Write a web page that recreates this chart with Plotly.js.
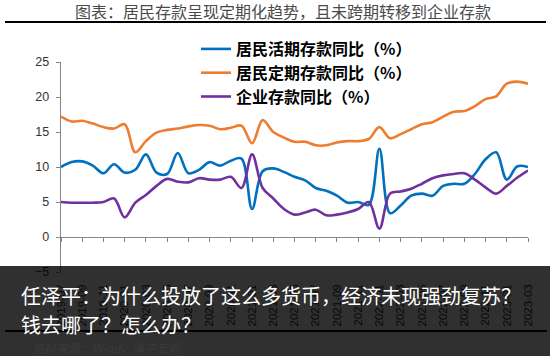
<!DOCTYPE html>
<html>
<head>
<meta charset="utf-8">
<script src="https://cdn.plot.ly/plotly-3.0.1.min.js"></script>
<style>
html,body{margin:0;padding:0;background:#fff;}
#chart{width:550px;height:356px;}
</style>
</head>
<body>
<div id="chart"></div>
<script>
// ---- data (monthly, 2019-07 .. 2023-03) ----
const months = [
  "2019-07","2019-08","2019-09","2019-10","2019-11","2019-12",
  "2020-01","2020-02","2020-03","2020-04","2020-05","2020-06",
  "2020-07","2020-08","2020-09","2020-10","2020-11","2020-12",
  "2021-01","2021-02","2021-03","2021-04","2021-05","2021-06",
  "2021-07","2021-08","2021-09","2021-10","2021-11","2021-12",
  "2022-01","2022-02","2022-03","2022-04","2022-05","2022-06",
  "2022-07","2022-08","2022-09","2022-10","2022-11","2022-12",
  "2023-01","2023-02","2023-03"
];
const demandDeposits = [
  10.0,10.7,10.8,10.2,9.1,10.4,
  9.2,9.6,11.8,9.2,9.0,12.0,
  9.1,9.6,10.7,10.2,10.9,11.2,
  4.0,9.4,9.8,9.3,8.6,8.1,
  7.0,6.6,5.9,4.9,5.0,4.6,
  12.6,3.4,4.5,5.9,6.2,5.9,
  7.3,7.6,7.6,9.0,11.1,12.1,
  8.2,10.1,10.0
];
const timeDeposits = [
  17.2,16.5,16.6,16.2,15.7,15.5,
  16.1,12.1,13.7,14.9,15.3,15.5,
  15.8,16.0,15.9,15.4,15.6,15.9,
  13.4,16.7,15.0,14.2,13.6,13.6,
  13.1,13.1,13.5,13.7,13.7,14.0,
  15.7,14.1,14.7,15.4,16.1,16.4,
  17.2,17.9,18.0,18.7,19.7,20.1,
  21.9,22.2,21.9
];
const corporateDeposits = [
  5.0,4.9,4.9,4.9,5.0,5.5,
  2.8,4.9,6.0,7.3,8.3,7.9,
  7.8,8.4,8.2,8.2,8.6,7.0,
  11.8,7.0,5.5,4.0,3.2,3.5,
  3.9,3.1,3.2,3.5,4.0,5.0,
  1.2,6.2,6.5,6.9,7.6,8.4,
  8.8,9.0,9.1,8.2,7.1,6.2,
  7.3,8.5,9.5
];
const seriesNames = ["居民活期存款同比（%）","居民定期存款同比（%）","企业存款同比（%）"];
const seriesColors = ["#0070C0","#ED7D31","#7030A0"];
const chartTitle = "图表：居民存款呈现定期化趋势，且未跨期转移到企业存款";
const sourceText = "资料来源：Wind，泽平宏观";
const bannerLines = ["任泽平：为什么投放了这么多货币，经济未现强劲复苏？","钱去哪了？怎么办？"];

// ---- layout geometry ----
const W = 550, H = 356;
const M = {l:61, r:22, t:62, b:84};
const PW = W - M.l - M.r, PH = H - M.t - M.b;
const px = x => (x - M.l) / PW;            // pixel x -> paper
const py = y => (H - M.b - y) / PH;        // pixel y -> paper
const yMin = -5, yMax = 25;

const cjk = '"Noto Sans CJK SC", sans-serif';
const lat = '"Liberation Sans", Arial, sans-serif';

const mk = (y, i, xa) => ({
  type: 'scatter', mode: 'lines', x: months, y: y, name: seriesNames[i],
  xaxis: xa, yaxis: 'y',
  line: {color: seriesColors[i], width: 2.6, shape: 'spline', smoothing: 1},
  hoverinfo: 'skip'
});
const traces = [
  mk(demandDeposits, 0, 'x'),
  mk(timeDeposits, 1, 'x'),
  mk(corporateDeposits, 2, 'x2')
];

const axisGray = '#868686';
const layout = {
  width: W, height: H,
  margin: M,
  paper_bgcolor: '#fff', plot_bgcolor: 'rgba(0,0,0,0)',
  showlegend: true,
  legend: {
    x: px(196), y: py(32), xanchor: 'left', yanchor: 'top',
    bgcolor: 'rgba(0,0,0,0)', borderwidth: 0,
    font: {family: cjk, size: 16, color: '#000', weight: 'bold'},
    tracegroupgap: 0, itemwidth: 30
  },
  xaxis: {
    type: 'category', range: [0, months.length - 1],
    tickmode: 'linear', tick0: 0, dtick: 2,
    tickangle: -90, ticks: '', showline: false, showgrid: false, zeroline: false,
    tickfont: {family: lat, size: 11.5, color: '#303030'},
    ticklabelstandoff: 9, fixedrange: true
  },
  xaxis2: {
    type: 'category', overlaying: 'x', anchor: 'free',
    position: (0 - yMin) / (yMax - yMin),
    range: [0, months.length - 1],
    tickmode: 'linear', tick0: 0, dtick: 2,
    showticklabels: false, ticks: 'outside', ticklen: 4, tickcolor: axisGray, tickwidth: 1,
    showline: true, linecolor: axisGray, linewidth: 1.3,
    showgrid: false, zeroline: false, fixedrange: true
  },
  yaxis: {
    range: [yMin, yMax], dtick: 5, tick0: 0,
    ticks: 'outside', ticklen: 4, tickcolor: axisGray, tickwidth: 1,
    showline: true, linecolor: axisGray, linewidth: 1.3,
    showgrid: false, zeroline: false,
    tickfont: {family: lat, size: 12.5, color: '#333'},
    ticklabelstandoff: 4, fixedrange: true
  },
  shapes: [
    {type: 'line', xref: 'paper', yref: 'paper', x0: px(5), x1: px(546), y0: py(22), y1: py(22),
     line: {color: '#000', width: 2}, layer: 'above'},
    {type: 'line', xref: 'paper', yref: 'paper', x0: px(5), x1: px(547), y0: py(331), y1: py(331),
     line: {color: '#000', width: 2}, layer: 'above'},
    {type: 'rect', xref: 'paper', yref: 'paper', x0: px(0), x1: px(W), y0: py(266), y1: py(H),
     fillcolor: 'rgba(0,0,0,0.81)', line: {width: 0}, layer: 'above'}
  ],
  annotations: [
    {xref: 'paper', yref: 'paper', x: px(283), y: py(11), xanchor: 'center', yanchor: 'middle',
     text: chartTitle, showarrow: false, font: {family: cjk, size: 16, color: '#4a4a4a'}},
    {xref: 'paper', yref: 'paper', x: px(30), y: py(347.5), xanchor: 'left', yanchor: 'middle',
     text: '<i>' + sourceText + '</i>', showarrow: false, font: {family: cjk, size: 12, color: 'rgba(60,60,60,0.9)'}},
    {xref: 'paper', yref: 'paper', x: px(19), y: py(295), xanchor: 'left', yanchor: 'middle',
     text: bannerLines[0], showarrow: false, font: {family: cjk, size: 20, color: '#fff'}},
    {xref: 'paper', yref: 'paper', x: px(19), y: py(324), xanchor: 'left', yanchor: 'middle',
     text: bannerLines[1], showarrow: false, font: {family: cjk, size: 20, color: '#fff'}}
  ]
};

Plotly.newPlot('chart', traces, layout, {displayModeBar: false, staticPlot: true});
</script>
</body>
</html>
